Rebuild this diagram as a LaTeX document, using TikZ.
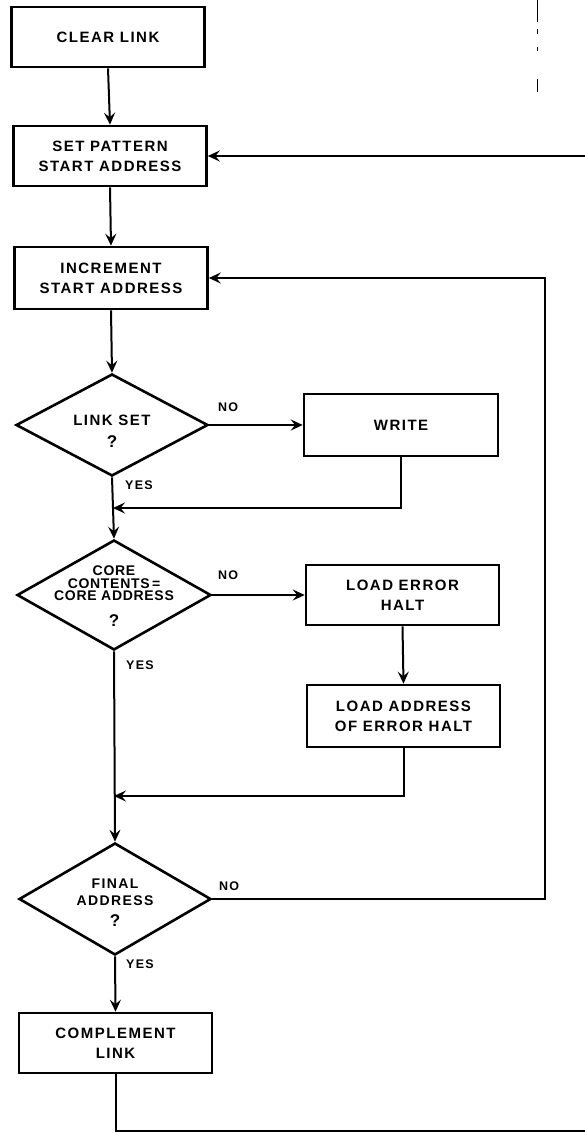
\documentclass[tikz,border=0pt]{standalone}
\usepackage{fontspec}
\setmainfont{Liberation Sans}
\newfontfamily\lett[LetterSpace=10]{Liberation Sans}
\newfontfamily\lettnarrow[LetterSpace=5]{Liberation Sans}
\usetikzlibrary{shapes.geometric,arrows.meta,calc}

\newcommand{\qmark}{{\fontsize{17}{17}\selectfont ?}}

\tikzset{
  box/.style={draw, line width=2.6pt, rectangle, inner sep=0pt,
    minimum width=193pt, minimum height=60pt, align=center,
    font=\lett\bfseries\fontsize{15}{20}\selectfont},
  decision/.style={draw, line width=2.6pt, shape=diamond, inner sep=0pt},
  dtext/.style={align=center, inner sep=0pt,
    font=\lett\bfseries\fontsize{15}{22}\selectfont},
  answer/.style={inner sep=0pt, font=\lett\bfseries\fontsize{12.5}{14}\selectfont},
  flow/.style={line width=2pt, -{Stealth[length=12pt, width=11pt, inset=4.5pt]}},
  plain/.style={line width=2pt},
}

\begin{document}
\begin{tikzpicture}[x=1pt, y=-1pt]
  \useasboundingbox (0,0) rectangle (585,1133);

  % main column of steps
  \node[box] (clear)  at (108,37)    {CLEAR LINK};
  \node[box] (setpat) at (110,156)   {SET PATTERN\\START ADDRESS};
  \node[box, minimum height=62pt] (incr) at (111,278) {INCREMENT\\START ADDRESS};

  \node[decision, minimum width=192pt, minimum height=102pt] (ls) at (112,425) {};
  \node[dtext] (lstext) at (112,431) {LINK SET\\\qmark};

  \node[decision, minimum width=194pt, minimum height=110pt] (core) at (114,595) {};
  \node[dtext, font=\lettnarrow\bfseries\fontsize{14}{12.5}\selectfont] (coretext) at (114,596)
    {CORE\\CONTENTS\,=\\CORE ADDRESS\\[13pt]\qmark};

  \node[decision, minimum width=192pt, minimum height=112pt] (final) at (115,899) {};
  \node[dtext, font=\lett\bfseries\fontsize{14}{17}\selectfont] (finaltext) at (115,903)
    {FINAL\\ADDRESS\\[4pt]\qmark};

  \node[box] (comp) at (115.5,1043) {COMPLEMENT\\LINK};

  % right-hand branch steps
  \node[box, minimum width=194pt, minimum height=62pt] (write) at (401,425) {WRITE};
  \node[box] (loaderr)  at (402.5,595) {LOAD ERROR\\HALT};
  \node[box, minimum height=62pt] (loadaddr) at (403.5,716) {LOAD ADDRESS\\OF ERROR HALT};

  % branch labels
  \node[answer] (no1)  at (228,407) {NO};
  \node[answer] (yes1) at (139,485) {YES};
  \node[answer] (no2)  at (228,575) {NO};
  \node[answer] (yes2) at (140,665) {YES};
  \node[answer] (no3)  at (229,886) {NO};
  \node[answer] (yes3) at (140,964) {YES};

  % junction points and off-page ends
  \coordinate (m1)    at (113,508);
  \coordinate (m2)    at (114,796);
  \coordinate (loopc) at (545,278);
  \coordinate (fromright) at (585,156);
  \coordinate (toright)   at (585,1131);
  \coordinate (tickA) at (537,0);
  \coordinate (tickB) at (537,92);

  % connectors
  \draw[flow] (clear.south) -- (setpat.north);
  \draw[flow] (setpat.south) -- (incr.north);
  \draw[flow] (incr.south) -- (ls.north);
  \draw[flow] (ls.east) -- (write.west);
  \draw[flow] (write.south) |- (m1);
  \draw[flow] (ls.south) -- (core.north);
  \draw[flow] (core.east) -- (loaderr.west);
  \draw[flow] (loaderr.south) -- (loadaddr.north);
  \draw[flow] (loadaddr.south) |- (m2);
  \draw[flow] (core.south) -- (final.north);
  \draw[flow] (final.east) -| (loopc) -- (incr.east);
  \draw[flow] (final.south) -- (comp.north);
  \draw[flow] (fromright) -- (setpat.east);
  \draw[plain] (comp.south) |- (toright);

  % broken line entering at the top edge
  \draw[line width=0.8pt, dash pattern=on 22pt off 7pt on 5pt off 13pt on 4pt off 28pt on 13pt]
    (tickA) -- (tickB);
\end{tikzpicture}
\end{document}
